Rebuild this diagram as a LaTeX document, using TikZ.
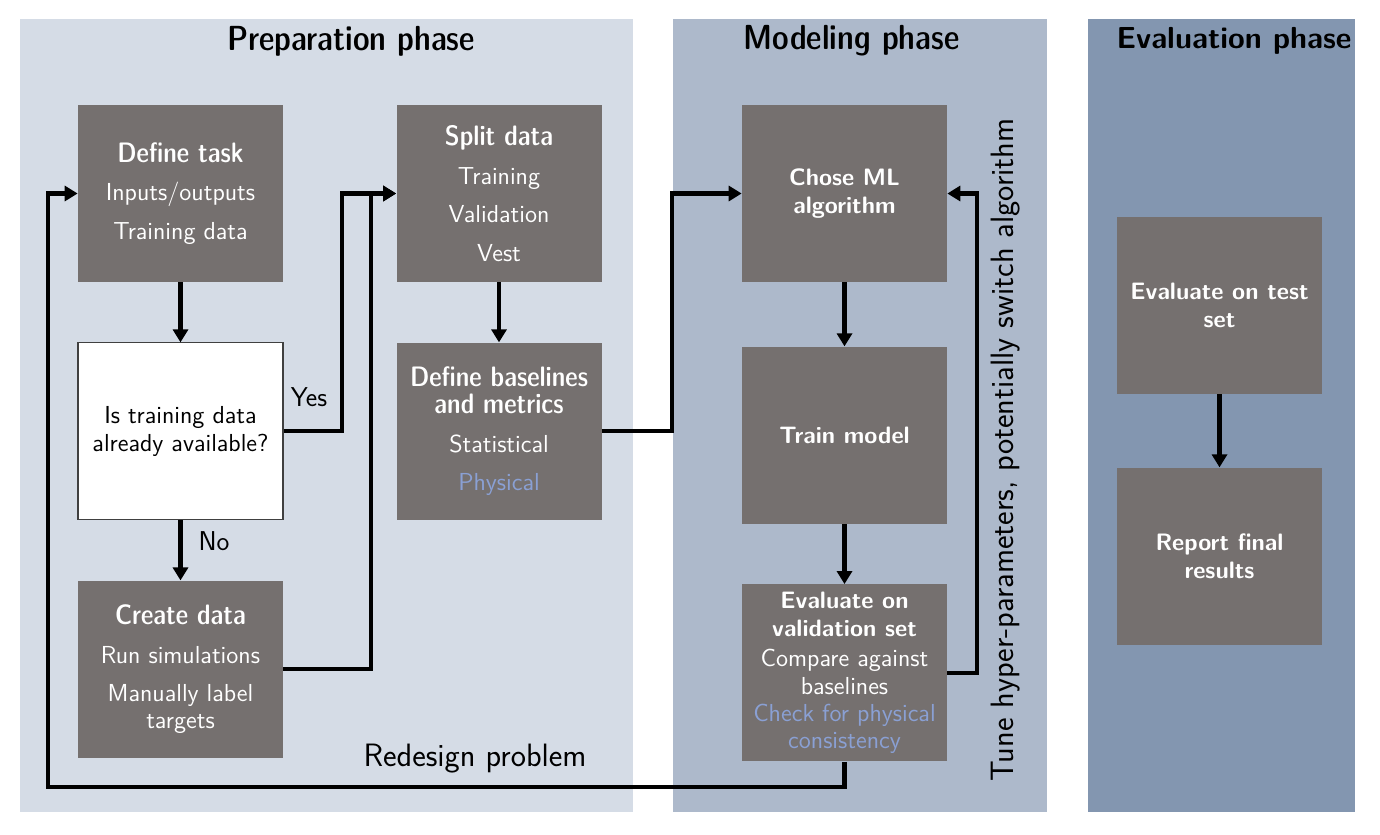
\documentclass[tikz,border=0pt]{standalone}
\usetikzlibrary{arrows.meta, positioning}
\definecolor{prepBg}{RGB}{213,220,230}
\definecolor{modelBg}{RGB}{173,185,203}
\definecolor{evalBg}{RGB}{131,150,176}
\definecolor{stepGray}{RGB}{117,112,111}
\definecolor{physBlue}{RGB}{138,160,212}
\newcommand{\headC}[1]{{\fontsize{16}{15.5}\fontseries{sbc}\selectfont #1}}
\newcommand{\headB}[1]{{\fontsize{13.5}{15.5}\bfseries #1}}
\newcommand{\phys}[1]{{\color{physBlue}#1}}
\tikzset{
    node distance=1.2cm,
    font=\sffamily\fontsize{14}{15.5}\selectfont,
    %
    % step boxes
    stepBox/.style={
        rectangle, fill=stepGray, text=white,
        minimum width=4.1cm, minimum height=3.54cm,
        align=center, inner sep=2pt
    },
    askBox/.style={stepBox, fill=white, text=black, draw=black!75, line width=0.6pt},
    %
    % labels
    phaseTitle/.style={font=\sffamily\fontsize{19.8}{22}\fontseries{sbc}\selectfont},
    sideLabel/.style={font=\sffamily\fontsize{15.5}{18}\selectfont},
    bigLabel/.style={font=\sffamily\fontsize{18.4}{20}\selectfont},
    %
    % connectors
    conn/.style={
        draw=black, line width=2.3pt,
        -{Triangle[length=0.26cm, width=0.3cm]}
    }
}
\begin{document}
\begin{tikzpicture}
    \useasboundingbox (0,0) rectangle (27.6,-16.68);

    %% phase panels
    \fill[prepBg] (0.4,-0.38) rectangle (12.66,-16.24);
    \fill[modelBg] (13.46,-0.38) rectangle (20.94,-16.24);
    \fill[evalBg] (21.76,-0.38) rectangle (27.1,-16.24);

    \node[phaseTitle] (prepTitle) at (7.02,-0.82) {Preparation phase};
    \node[phaseTitle] (modelTitle) at (17.03,-0.82) {Modeling phase};
    \node[phaseTitle, font=\sffamily\fontsize{17.3}{20}\bfseries] (evalTitle) at (24.68,-0.82) {Evaluation phase};

    %% preparation
    \node[stepBox] (task) at (3.61,-3.87) {\headC{Define task}\\[6.5pt] Inputs/outputs\\[6.5pt] Training data};
    \node[askBox, below=of task] (ask) {Is training data\\ already available?};
    \node[stepBox, below=of ask] (create) {\headC{Create data}\\[6.5pt] Run simulations\\[6.5pt] Manually label\\ targets};
    \node[stepBox] (split) at (9.98,-3.87) {\headC{Split data}\\[6.5pt] Training\\[6.5pt] Validation\\[6.5pt] Vest};
    \node[stepBox, below=of split] (base) {\headC{Define baselines}\\ \headC{and metrics}\\[6.5pt] Statistical\\[6.5pt] \phys{Physical}};

    %% modeling
    \node[stepBox] (chose) at (16.89,-3.87) {\headB{Chose ML}\\ \headB{algorithm}};
    \node[stepBox, below=1.28cm of chose] (train) {\headB{Train model}};
    \node[stepBox, below=of train] (valid) {\headB{Evaluate on}\\ \headB{validation set}\\[2pt] Compare against\\ baselines\\ \phys{Check for physical}\\ \phys{consistency}};

    %% evaluation
    \node[stepBox] (test) at (24.39,-6.11) {\headB{Evaluate on test}\\ \headB{set}};
    \node[stepBox, below=1.46cm of test] (report) {\headB{Report final}\\ \headB{results}};

    %% labels
    \node[sideLabel] (yes) at (6.18,-7.94) {Yes};
    \node[sideLabel] (no) at (4.28,-10.82) {No};
    \node[bigLabel] (redesign) at (9.5,-15.18) {Redesign problem};
    \node[bigLabel, rotate=90] (tune) at (20.12,-9.0) {Tune hyper-parameters, potentially switch algorithm};
    \coordinate (loop) at (0.96,-15.74);

    %% connectors
    \draw[conn] (task) -- (ask);
    \draw[conn] (ask) -- (create);
    \draw[conn] (ask.east) -- ++(1.16,0) |- (split.west);
    \draw[conn] (create.east) -- ++(1.76,0) |- (split.west);
    \draw[conn] (split) -- (base);
    \draw[conn] (base.east) -- ++(1.4,0) |- (chose.west);
    \draw[conn] (chose) -- (train);
    \draw[conn] (train) -- (valid);
    \draw[conn] (valid.east) -- ++(0.6,0) |- (chose.east);
    \draw[conn] (valid.south) |- (loop) |- (task.west);
    \draw[conn] (test) -- (report);
\end{tikzpicture}
\end{document}
